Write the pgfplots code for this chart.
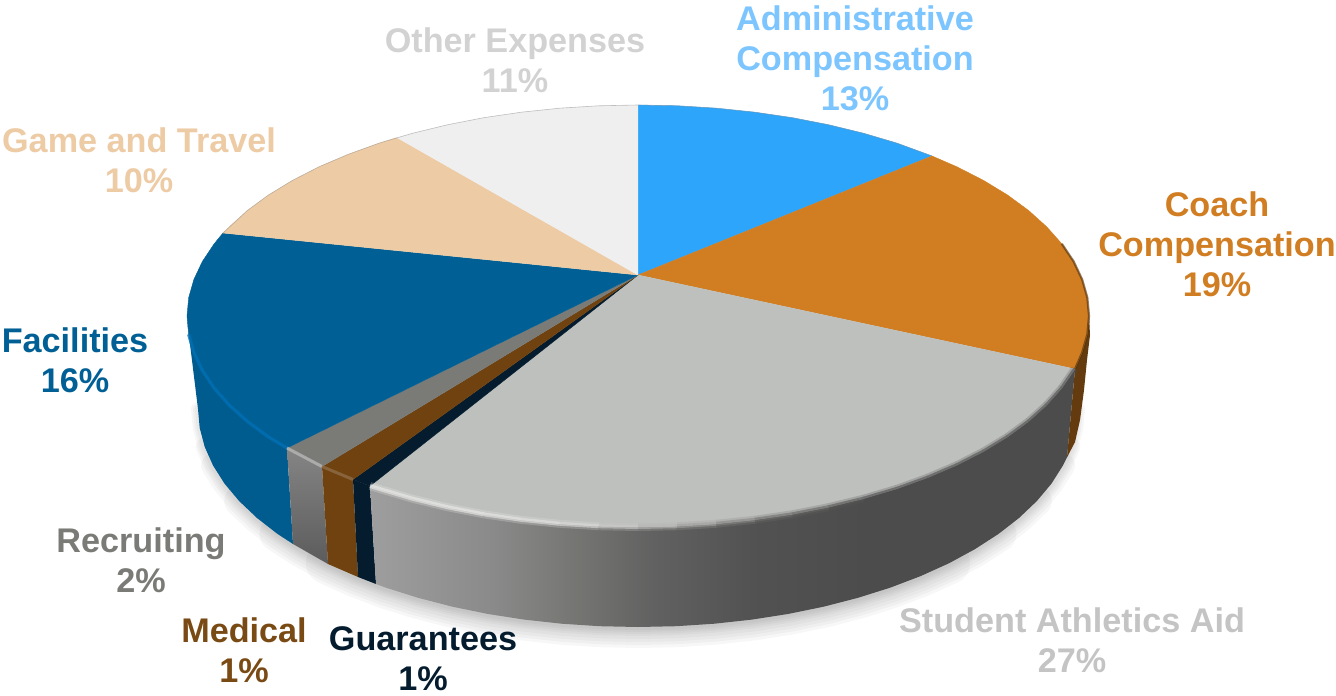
\documentclass[border=0pt]{standalone}
\usepackage{pgfplots}
\usepackage{pgfplotstable}
\usepackage{fontspec}
\setmainfont{Liberation Sans}
\pgfplotsset{compat=1.18}

\definecolor{cAdmin}{HTML}{2CA5FB}
\definecolor{cAdminT}{HTML}{7CC5FF}
\definecolor{cCoach}{HTML}{D17D22}
\definecolor{cStud}{HTML}{BEC0BD}
\definecolor{cStudT}{HTML}{C4C4C4}
\definecolor{cGuar}{HTML}{041C2E}
\definecolor{cMed}{HTML}{6F4210}
\definecolor{cMedT}{HTML}{7A4A15}
\definecolor{cRec}{HTML}{7A7B77}
\definecolor{cFac}{HTML}{005F94}
\definecolor{cFacRim}{HTML}{0070B4}
\definecolor{cGame}{HTML}{EDCBA5}
\definecolor{cOther}{HTML}{EFEFEF}
\definecolor{cOtherT}{HTML}{D2D2D2}

% side of the big grey slice, 25bp..75bp = x 376..1078
\pgfdeclarehorizontalshading{greyside}{100bp}{
  rgb(0bp)=(.62,.62,.62);
  rgb(25bp)=(.62,.62,.62);
  rgb(33.8bp)=(.54,.54,.54);
  rgb(38.8bp)=(.47,.47,.46);
  rgb(45.2bp)=(.38,.38,.38);
  rgb(52.3bp)=(.32,.32,.32);
  rgb(59.5bp)=(.30,.30,.30);
  rgb(100bp)=(.30,.30,.30)}

\pgfplotsset{colormap={rimgrey}{
  rgb255=(236,236,234) rgb255=(236,236,234) rgb255=(224,224,222) rgb255=(176,176,174)
  rgb255=(110,110,108) rgb255=(77,77,77) rgb255=(77,77,77) rgb255=(77,77,77)}}

% lower rim of the base ellipse, used for the soft shadow
\pgfplotstableread{
x y
198 409
199.7 428
204.7 446.8
213 465.4
224.5 483.6
239.2 501.1
257 518
277.6 534
301 549.1
326.9 563.2
355.2 576
385.6 587.6
418 597.8
452 606.6
487.5 613.9
524.1 619.6
561.6 623.7
599.6 626.2
638 627
676.4 626.2
714.4 623.7
751.9 619.6
788.5 613.9
824 606.6
858 597.8
890.4 587.6
920.8 576
949.1 563.2
975 549.1
998.4 534
1019 518
1036.8 501.1
1051.5 483.6
1063 465.4
1071.3 446.8
1076.3 428
1078 409
}\baseArc

% front rim of the grey slice
\pgfplotstableread{
x y
370 486
379.3 488.9
412.5 498.7
447.4 507.2
483.8 514.3
521.3 519.8
559.7 523.8
598.7 526.2
638 527
677.3 526.2
716.3 523.8
754.7 519.8
792.2 514.3
828.6 507.2
863.5 498.7
896.7 488.9
927.9 477.6
956.9 465.2
983.5 451.6
1007.5 437
1028.6 421.5
1046.7 405.2
1061.8 388.2
1075 369
}\greyRim

% rim of the blue slice
\pgfplotstableread{
x y
287 448
268.5 437
247.4 421.5
229.3 405.2
214.2 388.2
202.4 370.6
193.9 352.6
188.7 334.4
}\blueRim

% right hand rim of the orange slice
\pgfplotstableread{
x y
1075 369
1082.1 352.6
1087.3 334.4
1089 316
1087.3 297.6
1082.1 279.4
1073.6 261.4
1061.8 243.8
}\orangeRim

% back rim
\pgfplotstableread{
x y
223 233
247.4 210.5
268.5 195
292.5 180.4
319.1 166.8
348.1 154.4
379.3 143.1
412.5 133.3
447.4 124.8
483.8 117.7
521.3 112.2
559.7 108.2
598.7 105.8
638 105
677.3 105.8
716.3 108.2
754.7 112.2
792.2 117.7
828.6 124.8
863.5 133.3
896.7 143.1
932 156
}\backRim

\newcommand{\lab}[3]{\node[text=#1,align=center,inner sep=0pt,anchor=center,
  font=\fontsize{17.1}{20}\selectfont\bfseries] at (axis cs:#2) {#3};}

\pgfplotsset{shadow/.style={draw=black, opacity=0.03, line cap=round, line join=round}}

\begin{document}
\begin{tikzpicture}
\begin{axis}[
  scale only axis,
  width=668pt, height=347.5pt,
  xmin=0, xmax=1336, ymin=0, ymax=695,
  y dir=reverse,
  hide axis,
  clip=false,
  point meta min=370, point meta max=1075,
]
% keeps the page as large as the whole axis
\path (axis cs:0,0) rectangle (axis cs:1336,695);

% soft shadow, the wide layers stop short of the ends
\addplot[shadow, line width=21pt, skip coords between index={0}{9}, skip coords between index={28}{37}] table {\baseArc};
\addplot[shadow, line width=18pt, skip coords between index={0}{7}, skip coords between index={30}{37}] table {\baseArc};
\addplot[shadow, line width=15pt, skip coords between index={0}{5}, skip coords between index={32}{37}] table {\baseArc};
\addplot[shadow, line width=12pt, skip coords between index={0}{3}, skip coords between index={34}{37}] table {\baseArc};
\addplot[shadow, line width=9pt, skip coords between index={0}{2}, skip coords between index={35}{37}] table {\baseArc};
\addplot[shadow, line width=7pt] table {\baseArc};
\addplot[shadow, line width=5pt] table {\baseArc};
\addplot[shadow, line width=3pt] table {\baseArc};

% sides
\addplot[fill=cFac!96!black, draw=none] coordinates {
  (287,448) (268.5,437) (247.4,421.5) (229.3,405.2) (214.2,388.2) (202.4,370.6) (193.9,352.6)
  (188.7,334.4) (187,320) (198,409) (199.7,428) (204.7,446.8) (213,465.4) (224.5,483.6)
  (239.2,501.1) (257,518) (277.6,534) (293,544)};
\addplot[top color=white!52!black, middle color=white!44!black, bottom color=white!36!black, draw=none] coordinates {
  (287,448) (322,466.5) (328,564) (293,544)};
\addplot[fill=cMed, draw=none] coordinates {
  (322,466.5) (353,479.5) (358,577) (328,564)};
\addplot[fill=cGuar, draw=none] coordinates {
  (353,479.5) (370,486) (376,584) (358,577)};
\addplot[shading=greyside, draw=none] coordinates {
  (370,486) (379.3,488.9) (412.5,498.7) (447.4,507.2) (483.8,514.3) (521.3,519.8) (559.7,523.8)
  (598.7,526.2) (638,527) (677.3,526.2) (716.3,523.8) (754.7,519.8) (792.2,514.3) (828.6,507.2)
  (863.5,498.7) (896.7,488.9) (927.9,477.6) (956.9,465.2) (983.5,451.6) (1007.5,437)
  (1028.6,421.5) (1046.7,405.2) (1061.8,388.2) (1075,369)
  (1067,457.4) (1063,465.4) (1051.5,483.6) (1036.8,501.1) (1019,518) (998.4,534) (975,549.1)
  (949.1,563.2) (920.8,576) (890.4,587.6) (858,597.8) (824,606.6) (788.5,613.9) (751.9,619.6)
  (714.4,623.7) (676.4,626.2) (638,627) (599.6,626.2) (561.6,623.7) (524.1,619.6) (487.5,613.9)
  (452,606.6) (418,597.8) (385.6,587.6) (376,584)};
\addplot[fill=cMed!90!black, draw=none] coordinates {
  (1075,369) (1082.1,352.6) (1087.3,334.4) (1089,316) (1090,335) (1087,360) (1084,390) (1080,420)
  (1075,442) (1067,457.4)};

% top faces
\addplot[fill=cAdmin, draw=cAdmin, line width=0.2pt] coordinates {
  (638,275) (638,105) (677.3,105.8) (716.3,108.2) (754.7,112.2) (792.2,117.7) (828.6,124.8)
  (863.5,133.3) (896.7,143.1) (932,156)};
\addplot[fill=cCoach, draw=cCoach, line width=0.2pt] coordinates {
  (638,275) (932,156) (956.9,166.8) (983.5,180.4) (1007.5,195) (1028.6,210.5) (1046.7,226.8)
  (1061.8,243.8) (1073.6,261.4) (1082.1,279.4) (1087.3,297.6) (1089,316) (1087.3,334.4)
  (1082.1,352.6) (1075,369)};
\addplot[fill=cStud, draw=cStud, line width=0.2pt] coordinates {
  (638,275) (1075,369) (1061.8,388.2) (1046.7,405.2) (1028.6,421.5) (1007.5,437) (983.5,451.6)
  (956.9,465.2) (927.9,477.6) (896.7,488.9) (863.5,498.7) (828.6,507.2) (792.2,514.3)
  (754.7,519.8) (716.3,523.8) (677.3,526.2) (638,527) (598.7,526.2) (559.7,523.8) (521.3,519.8)
  (483.8,514.3) (447.4,507.2) (412.5,498.7) (379.3,488.9) (370,486)};
\addplot[fill=cGuar, draw=cGuar, line width=0.2pt] coordinates {
  (638,275) (370,486) (353,479.5)};
\addplot[fill=cMed, draw=cMed, line width=0.2pt] coordinates {
  (638,275) (353,479.5) (322,466.5)};
\addplot[fill=cRec, draw=cRec, line width=0.2pt] coordinates {
  (638,275) (322,466.5) (287,448)};
\addplot[fill=cFac, draw=cFac, line width=0.2pt] coordinates {
  (638,275) (287,448) (268.5,437) (247.4,421.5) (229.3,405.2) (214.2,388.2) (202.4,370.6)
  (193.9,352.6) (188.7,334.4) (187,316) (188.7,297.6) (193.9,279.4) (202.4,261.4) (214.2,243.8)
  (223,233)};
\addplot[fill=cGame, draw=cGame, line width=0.2pt] coordinates {
  (638,275) (223,233) (229.3,226.8) (247.4,210.5) (268.5,195) (292.5,180.4) (319.1,166.8)
  (348.1,154.4) (379.3,143.1) (397,137.6)};
\addplot[fill=cOther, draw=cOther, line width=0.2pt] coordinates {
  (638,275) (397,137.6) (412.5,133.3) (447.4,124.8) (483.8,117.7) (521.3,112.2) (559.7,108.2)
  (598.7,105.8) (638,105)};

% bevel along the rim
\addplot[mesh, point meta=x, colormap name=rimgrey, opacity=0.25, line width=4pt] table {\greyRim};
\addplot[mesh, point meta=x, colormap name=rimgrey, opacity=0.6, line width=2pt] table {\greyRim};
\addplot[draw=cFacRim, opacity=0.8, line width=1.6pt] table {\blueRim};
\addplot[draw=cMed!70!black, opacity=0.6, line width=1.1pt] table {\orangeRim};
\addplot[draw=black!45, opacity=0.5, line width=0.3pt] table {\backRim};
\addplot[draw=white!75!black, opacity=0.7, line width=1.5pt] coordinates {(287,448) (322,466.5)};
\addplot[draw=cMed!75!white, opacity=0.7, line width=1.5pt] coordinates {(322,466.5) (353,479.5)};

% labels
\lab{cAdminT}{855,58}{Administrative\\Compensation\\13\%}
\lab{cCoach}{1217,244}{Coach\\Compensation\\19\%}
\lab{cStudT}{1072,640}{Student Athletics Aid\\27\%}
\lab{cGuar}{423,659}{Guarantees\\1\%}
\lab{cMedT}{244,650}{Medical\\1\%}
\lab{cRec}{141,560}{Recruiting\\2\%}
\lab{cFac}{75,360}{Facilities\\16\%}
\lab{cGame}{139,160}{Game and Travel\\10\%}
\lab{cOtherT}{515,60}{Other Expenses\\11\%}
\end{axis}
\end{tikzpicture}
\end{document}
